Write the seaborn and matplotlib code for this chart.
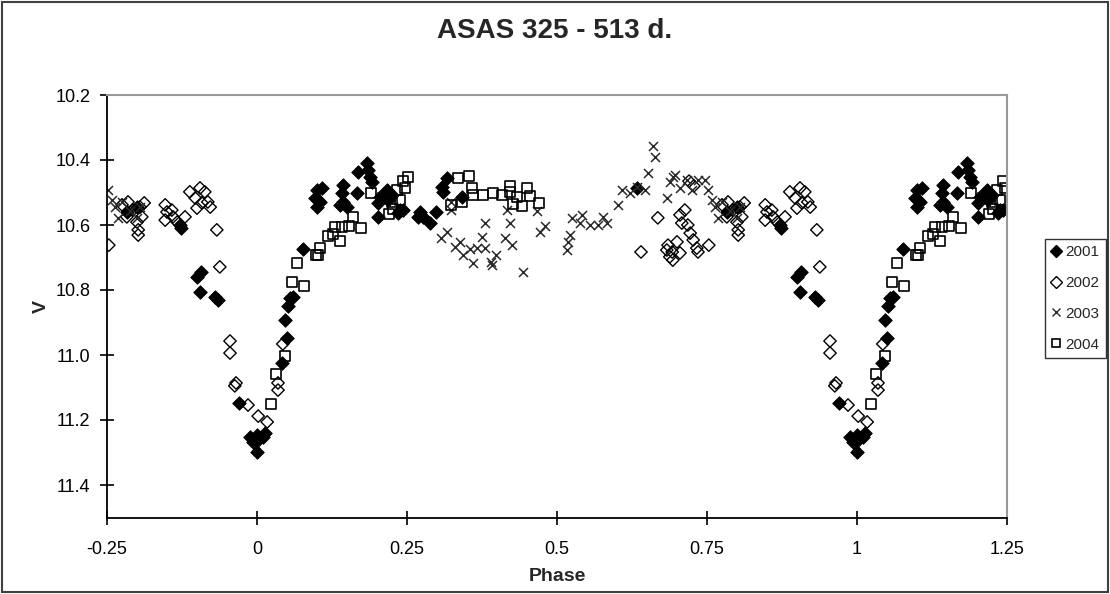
import numpy as np
import pandas as pd
import seaborn as sns
import matplotlib.pyplot as plt
from matplotlib.lines import Line2D
from matplotlib.patches import Rectangle

# ---------------- data (one cycle, phase in [-0.25, 0.75)) ----------------
phase_2001 = [-0.217, -0.200, -0.127, -0.128, -0.100, -0.093, -0.095, -0.070, -0.065,
              -0.030, -0.012, 0.000, 0.010, -0.007, 0.002, 0.000, 0.013,
              0.042, 0.050, 0.047, 0.052, 0.055, 0.060, 0.077,
              0.100, 0.102, 0.100, 0.108, 0.105, 0.097,
              0.143, 0.142, 0.143, 0.138, 0.150,
              0.167, 0.168, 0.183, 0.185, 0.188, 0.192, 0.202, 0.202, 0.217, 0.218,
              0.205, 0.225, 0.238, 0.243, 0.235,
              0.272, 0.268, 0.277, 0.288, 0.298, 0.308, 0.317, 0.310, 0.342, 0.633]
mag_2001 = [10.56, 10.545, 10.609, 10.600, 10.760, 10.745, 10.806, 10.822, 10.831,
            11.148, 11.252, 11.246, 11.252, 11.268, 11.262, 11.298, 11.240,
            11.025, 10.948, 10.892, 10.849, 10.825, 10.822, 10.674,
            10.492, 10.523, 10.545, 10.486, 10.529, 10.517,
            10.477, 10.502, 10.529, 10.538, 10.545,
            10.502, 10.437, 10.409, 10.431, 10.452, 10.468, 10.532, 10.575, 10.492, 10.523,
            10.514, 10.508, 10.554, 10.554, 10.563,
            10.560, 10.575, 10.575, 10.594, 10.560, 10.483, 10.455, 10.498, 10.514, 10.485]

phase_2002 = [-0.247, -0.225, -0.215, -0.217, -0.207, -0.200, -0.198, -0.198, -0.192,
              -0.188, -0.195,
              -0.153, -0.150, -0.153, -0.142, -0.140, -0.133, -0.120, -0.112, -0.103,
              -0.095, -0.087, -0.100, -0.092, -0.082, -0.078, -0.067,
              -0.062, -0.045, -0.045, -0.035, -0.037, -0.015, 0.002, 0.017, 0.035,
              0.035, 0.043,
              0.640, 0.668, 0.705, 0.713, 0.708, 0.718, 0.722, 0.727, 0.735,
              0.685, 0.683, 0.692, 0.693, 0.700, 0.705, 0.733, 0.688, 0.720, 0.728]
mag_2002 = [10.662, 10.538, 10.529, 10.575, 10.554, 10.591, 10.615, 10.631, 10.575,
            10.532, 10.545,
            10.538, 10.560, 10.585, 10.554, 10.575, 10.591, 10.575, 10.498, 10.517,
            10.486, 10.498, 10.548, 10.532, 10.529, 10.545, 10.615,
            10.729, 10.957, 10.994, 11.086, 11.095, 11.154, 11.188, 11.206, 11.086,
            11.108, 10.966,
            10.683, 10.578, 10.569, 10.554, 10.594, 10.600, 10.625, 10.646, 10.683,
            10.662, 10.677, 10.683, 10.708, 10.652, 10.686, 10.671, 10.698, 10.465, 10.480]

phase_2003 = [-0.248, -0.242, -0.237, -0.232, -0.225, -0.212, -0.200, -0.195,
              0.317, 0.307, 0.323, 0.323, 0.338, 0.330, 0.343, 0.355, 0.360, 0.367,
              0.380, 0.375, 0.380, 0.398, 0.390, 0.392, 0.417, 0.422, 0.413, 0.425,
              0.443, 0.467, 0.472, 0.480, 0.518, 0.517, 0.522, 0.525, 0.542, 0.538,
              0.555, 0.568, 0.577, 0.583, 0.602, 0.608, 0.622, 0.633, 0.647, 0.652,
              0.660, 0.663, 0.683, 0.688, 0.697, 0.705, 0.717, 0.725, 0.735, 0.747,
              0.693]
mag_2003 = [10.492, 10.523, 10.545, 10.578, 10.529, 10.557, 10.578, 10.545,
            10.622, 10.640, 10.529, 10.554, 10.652, 10.668, 10.692, 10.674, 10.717, 10.671,
            10.671, 10.637, 10.594, 10.692, 10.714, 10.723, 10.554, 10.594, 10.640, 10.662,
            10.745, 10.557, 10.622, 10.603, 10.652, 10.677, 10.631, 10.578, 10.569, 10.594,
            10.600, 10.600, 10.575, 10.594, 10.538, 10.492, 10.502, 10.483, 10.492, 10.440,
            10.357, 10.391, 10.517, 10.468, 10.446, 10.486, 10.462, 10.492, 10.462, 10.462,
            10.452]

phase_2004 = [0.023, 0.032, 0.047, 0.058, 0.078, 0.067, 0.098, 0.102, 0.105, 0.118,
              0.127, 0.130, 0.142, 0.153, 0.160, 0.173, 0.138,
              0.190, 0.210, 0.225, 0.227, 0.238, 0.243, 0.252, 0.247, 0.233, 0.220,
              0.335, 0.353, 0.342, 0.358, 0.360, 0.377, 0.393, 0.408, 0.422, 0.422,
              0.450, 0.455, 0.433, 0.427, 0.442, 0.470, 0.323]
mag_2004 = [11.151, 11.058, 11.003, 10.775, 10.788, 10.717, 10.692, 10.692, 10.671, 10.634,
            10.628, 10.606, 10.606, 10.603, 10.575, 10.609, 10.649,
            10.502, 10.517, 10.529, 10.551, 10.523, 10.465, 10.452, 10.486, 10.492, 10.566,
            10.455, 10.449, 10.529, 10.486, 10.508, 10.508, 10.502, 10.508, 10.480, 10.498,
            10.486, 10.511, 10.514, 10.535, 10.542, 10.532, 10.538]

years = ["2001", "2002", "2003", "2004"]
x_ticks = [-0.25, 0, 0.25, 0.5, 0.75, 1, 1.25]
x_tick_labels = ["-0.25", "0", "0.25", "0.5", "0.75", "1", "1.25"]
y_ticks = [10.2, 10.4, 10.6, 10.8, 11.0, 11.2, 11.4]
y_tick_labels = ["10.2", "10.4", "10.6", "10.8", "11.0", "11.2", "11.4"]
title = "ASAS 325 - 513 d."

# ---------------- build frame: phase and phase+1 ----------------
series = {"2001": (phase_2001, mag_2001), "2002": (phase_2002, mag_2002),
          "2003": (phase_2003, mag_2003), "2004": (phase_2004, mag_2004)}
rows = []
for yr, (p, m) in series.items():
    p = np.asarray(p, float)
    m = np.asarray(m, float)
    for shift in (0.0, 1.0):
        pp = p + shift
        keep = (pp >= -0.25) & (pp <= 1.25)
        rows.append(pd.DataFrame({"phase": pp[keep], "V": m[keep], "year": yr}))
df = pd.concat(rows, ignore_index=True)

# ---------------- style ----------------
sns.set_theme(style="white")
plt.rcParams["font.family"] = ["Liberation Sans", "DejaVu Sans"]

fig = plt.figure(figsize=(11.1, 5.94), dpi=100)
ax = fig.add_axes([107 / 1110, 1 - 517.5 / 594, 900 / 1110, 422.5 / 594])

styles = {
    "2001": dict(marker="D", s=48, color="black", edgecolor="black", linewidth=0.6),
    "2002": dict(marker="D", s=40, facecolor="none", edgecolor="black", linewidth=1.0),
    "2003": dict(marker="x", s=42, color="#2a2a2a", linewidth=1.1),
    "2004": dict(marker="s", s=48, facecolor="none", edgecolor="black", linewidth=1.2),
}
for yr in years:
    sub = df[df["year"] == yr]
    sns.scatterplot(data=sub, x="phase", y="V", ax=ax, legend=False, **styles[yr])

ax.set_xlim(-0.25, 1.25)
ax.set_ylim(11.5, 10.2)
ax.set_xticks(x_ticks)
ax.set_xticklabels(x_tick_labels)
ax.set_yticks(y_ticks)
ax.set_yticklabels(y_tick_labels)
ax.tick_params(axis="both", direction="inout", length=10, width=1.2, color="black",
               labelsize=13, labelcolor="black", left=True, bottom=True)
ax.tick_params(axis="x", pad=12)
ax.tick_params(axis="y", pad=7)
ax.set_xlabel("Phase", fontsize=14, fontweight="bold", labelpad=7)
ax.set_ylabel("V", fontsize=14, fontweight="bold", labelpad=4)
for side in ("left", "bottom"):
    ax.spines[side].set_color("black")
    ax.spines[side].set_linewidth(1.3)
for side in ("top", "right"):
    ax.spines[side].set_color("#999999")
    ax.spines[side].set_linewidth(1.5)
ax.grid(False)

fig.text(555 / 1110, 1 - 31 / 594, title, ha="center", va="center",
         fontsize=20, fontweight="bold")

# legend
handles = [
    Line2D([], [], linestyle="none", marker="D", markersize=6, color="black"),
    Line2D([], [], linestyle="none", marker="D", markersize=6, markerfacecolor="none",
           markeredgecolor="black"),
    Line2D([], [], linestyle="none", marker="x", markersize=6, color="#2a2a2a"),
    Line2D([], [], linestyle="none", marker="s", markersize=6, markerfacecolor="none",
           markeredgecolor="black", markeredgewidth=1.2),
]
leg = fig.legend(handles, years, loc="upper left", bbox_to_anchor=(1045 / 1110, 1 - 239 / 594),
                 frameon=True, fancybox=False, edgecolor="black", fontsize=11,
                 handlelength=0.7, handletextpad=0.25, labelspacing=1.1, borderpad=0.4,
                 borderaxespad=0)
leg.get_frame().set_linewidth(1.0)

# outer chart border
fig.patches.append(Rectangle((2 / 1110, 2 / 594), 1 - 4 / 1110, 1 - 4 / 594,
                             transform=fig.transFigure, fill=False,
                             edgecolor="#404040", linewidth=1.5))

fig.savefig("out.png", dpi=100)
